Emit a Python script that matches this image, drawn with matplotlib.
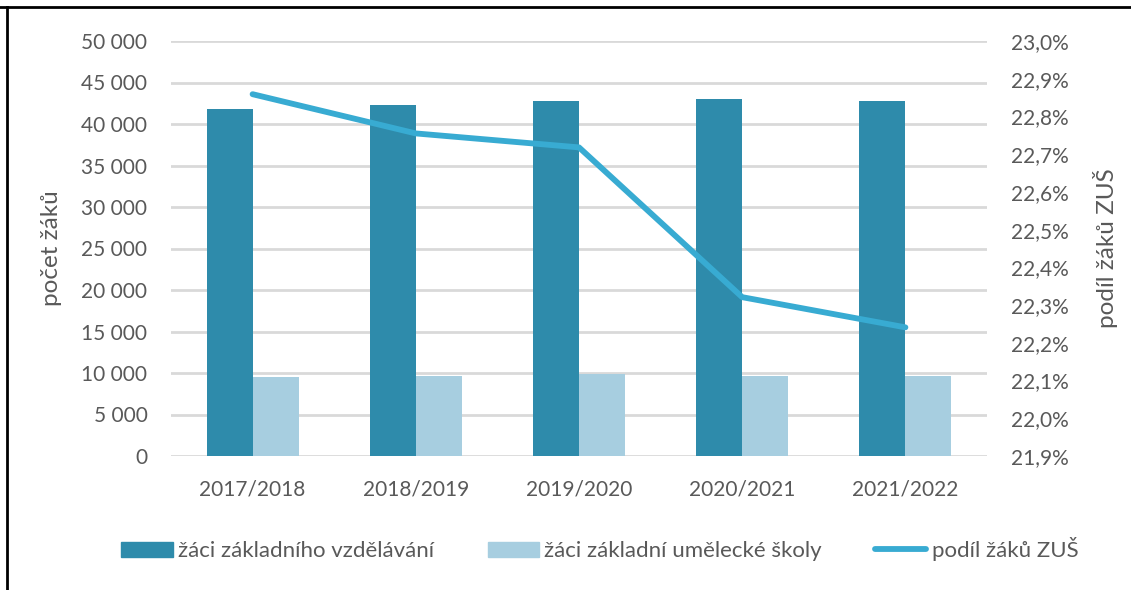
import matplotlib
matplotlib.use("Agg")
import matplotlib.pyplot as plt
import matplotlib.patches as mpatches
from matplotlib.lines import Line2D
from matplotlib.ticker import FuncFormatter
import numpy as np

plt.rcParams["font.family"] = ["Lato", "DejaVu Sans"]

DARK, LIGHT, LINE, TXT, GRID = "#2E8BAB", "#A7CEE0", "#38ABD2", "#595959", "#D9D9D9"

years = ["2017/2018", "2018/2019", "2019/2020", "2020/2021", "2021/2022"]
zaci_zv = [41830, 42290, 42810, 42980, 42810]
zaci_zus = [9560, 9580, 9840, 9640, 9600]
podil_zus = [22.859, 22.755, 22.718, 22.321, 22.241]

W, H = 1131, 590
fig = plt.figure(figsize=(W / 100, H / 100), dpi=100)
ax = fig.add_axes([171 / W, 1 - 456 / H, (987 - 171) / W, (456 - 41) / H])

x = np.arange(len(years))
bw = 0.282
ax.bar(x - bw / 2, zaci_zv, bw, color=DARK, zorder=2)
ax.bar(x + bw / 2, zaci_zus, bw, color=LIGHT, zorder=2)
ax.set_xlim(-0.5, len(years) - 0.5)
ax.set_ylim(0, 50000)
ax.set_yticks(np.arange(0, 50001, 5000))
ax.yaxis.set_major_formatter(FuncFormatter(lambda v, p: f"{int(v):,}".replace(",", " ")))
ax.set_xticks(x)
ax.set_xticklabels(years)
ax.grid(axis="y", color=GRID, linewidth=2, zorder=0)
ax.set_axisbelow(True)
for s in ax.spines.values():
    s.set_visible(False)
ax.tick_params(length=0, pad=17, labelsize=15, labelcolor=TXT)
ax.set_ylabel("počet žáků", fontsize=17.5, color=TXT)
ax.yaxis.set_label_coords(-0.1336, 0.5)

ax2 = ax.twinx()
ax2.plot(x, podil_zus, color=LINE, linewidth=4.2, solid_capstyle="round", solid_joinstyle="round", zorder=3)
ax2.set_ylim(21.9, 23.0)
ax2.set_yticks(np.round(np.arange(21.9, 23.01, 0.1), 1))
ax2.yaxis.set_major_formatter(FuncFormatter(lambda v, p: f"{v:.1f}%".replace(".", ",")))
for s in ax2.spines.values():
    s.set_visible(False)
ax2.tick_params(length=0, pad=17, labelsize=15, labelcolor=TXT)
ax2.set_ylabel("podíl žáků ZUŠ", fontsize=17.5, color=TXT)
ax2.yaxis.set_label_coords(1.130, 0.5)

handles = [mpatches.Patch(color=DARK, label="žáci základního vzdělávání"),
           mpatches.Patch(color=LIGHT, label="žáci základní umělecké školy"),
           Line2D([], [], color=LINE, linewidth=4.2, solid_capstyle="round", label="podíl žáků ZUŠ")]
leg = fig.legend(handles=handles, loc="center", bbox_to_anchor=(600 / W, 1 - 549 / H), ncol=3,
                 frameon=False, fontsize=16, handlelength=2.3, handleheight=0.65,
                 handletextpad=0.25, columnspacing=2.4)
for t in leg.get_texts():
    t.set_color(TXT)

# black frame at top and left edge
fig.add_artist(Line2D([0, 1], [1 - 6.5 / H] * 2, color="black", linewidth=2, transform=fig.transFigure))
fig.add_artist(Line2D([6.5 / W] * 2, [0, 1 - 6.5 / H], color="black", linewidth=2, transform=fig.transFigure))

fig.savefig("out.png", dpi=100)
